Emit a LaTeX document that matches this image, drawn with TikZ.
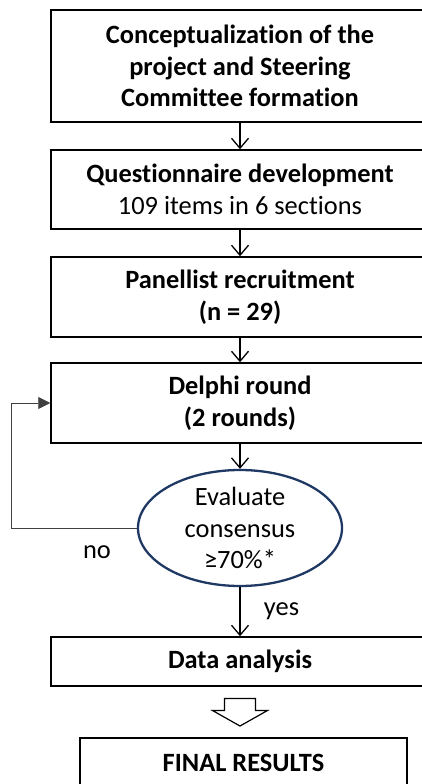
\documentclass[tikz,border=0pt]{standalone}
\usepackage{fontspec}
\setmainfont{Carlito}[Ligatures=NoCommon]
\usetikzlibrary{positioning,shapes.geometric,arrows.meta,calc}
\definecolor{navy}{HTML}{1F3864}

\begin{document}
\begin{tikzpicture}[x=1pt,y=1pt,
  txt/.style={font=\fontsize{26.4}{31.5}\selectfont},
  box/.style={txt,draw,line width=1.5pt,minimum width=378pt,align=center,inner sep=0pt},
  flow/.style={line width=1.3pt,-{Straight Barb[length=10pt,width=17pt,line width=1.3pt]}},
  back/.style={line width=0.8pt,draw=black!75,-{Triangle[length=12pt,width=12pt]}}]
\useasboundingbox (0,0) rectangle (422,-784);
\node[box,minimum height=112pt] (concept) at (240,-66)
  {\textbf{Conceptualization of the}\\\textbf{project and Steering}\\\textbf{Committee formation}};
\node[box,minimum height=79pt,below=26.5pt of concept] (quest)
  {\textbf{Questionnaire development}\\109 items in 6 sections};
\node[box,minimum height=80pt,below=26.5pt of quest] (panel)
  {\textbf{Panellist recruitment}\\\textbf{(n = 29)}};
\node[box,minimum height=80pt,below=24.5pt of panel] (delphi)
  {\textbf{Delphi round}\\\textbf{(2 rounds)}};
\node[txt,ellipse,draw=navy,line width=2.3pt,minimum width=204pt,minimum height=116pt,
  align=center,inner sep=0pt,below=25.1pt of delphi] (eval)
  {Evaluate\\consensus\\≥70\%*};
\node[box,minimum height=49pt,below=49.1pt of eval] (analysis) {\textbf{Data analysis}};
\node[box,minimum width=327pt,minimum height=50pt,below=50.5pt of analysis,xshift=3.5pt] (final)
  {\textbf{FINAL RESULTS}};
\draw[flow] (concept) -- (quest);
\draw[flow] (quest) -- (panel);
\draw[flow] (panel) -- (delphi);
\draw[flow] (delphi) -- (eval);
\draw[flow] (eval) -- (analysis.north) node[txt,midway,right=20pt] (yes) {yes};
\draw[back] (eval.west) -- ++(-125,0) |- (delphi.west);
\node[txt] (no) at (97,-552) {no};
% hollow arrow to the results
\coordinate (mid) at ($(analysis.south)!0.5!(analysis.south|-final.north)$);
\draw[line width=1.2pt,line join=miter] ($(mid)+(-15.5,13.5)$) -- ++(31,0) -- ++(0,-12) -- ++(12,0)
  -- ($(mid)+(0,-14)$) -- ($(mid)+(-27.5,1.5)$) -- ++(12,0) -- cycle;
\end{tikzpicture}
\end{document}
